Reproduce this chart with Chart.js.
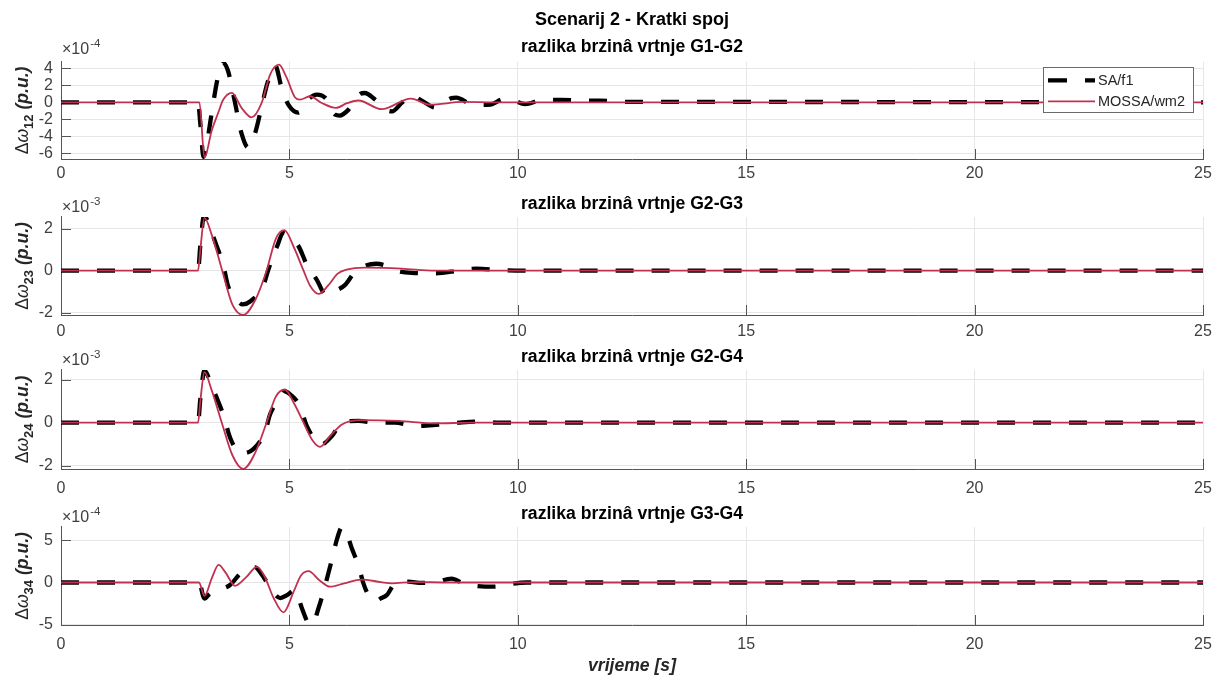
<!DOCTYPE html>
<html><head><meta charset="utf-8">
<script src="https://cdn.jsdelivr.net/npm/chart.js@4"></script>
<style>
html,body{margin:0;padding:0;background:#fff;}
#wrap{position:relative;width:1217px;height:681px;overflow:hidden;background:#fff;}
canvas{position:absolute;left:0;}
</style></head><body>
<div id="wrap">
<canvas id="c1"></canvas><canvas id="c2"></canvas><canvas id="c3"></canvas><canvas id="c4"></canvas>
</div>
<script>
// ---------- data ----------
const xTicks = [0, 5, 10, 15, 20, 25];
const seriesNames = ['SA/f1', 'MOSSA/wm2'];
const mainTitle = 'Scenarij 2 - Kratki spoj';
const subTitles = ['razlika brzinâ vrtnje G1-G2', 'razlika brzinâ vrtnje G2-G3', 'razlika brzinâ vrtnje G2-G4', 'razlika brzinâ vrtnje G3-G4'];
const subIdx = ['12', '23', '24', '34'];
const expLabels = ['-4', '-3', '-3', '-4'];
const yTicks12 = [-6, -4, -2, 0, 2, 4];
const yTicks23 = [-2, 0, 2];
const yTicks24 = [-2, 0, 2];
const yTicks34 = [-5, 0, 5];
const xTitle = 'vrijeme [s]';

// G1-G2 (x1e-4)
const t_sa12 = [0, 3.0, 3.05, 3.12, 3.2, 3.3, 3.42, 3.53, 3.65, 3.8, 3.95, 4.1, 4.25, 4.38, 4.52, 4.69, 4.83, 4.98, 5.2, 5.4, 5.6, 5.8, 6.0, 6.1, 6.29, 6.55, 6.65, 6.88, 7.17, 7.25, 7.45, 7.66, 7.9, 8.2, 8.55, 8.65, 9.0, 9.2, 9.4, 9.7, 9.8, 10.16, 10.55, 10.95, 11.4, 11.8, 12.5, 14, 25];
const sa12   = [0, 0, -2.5, -6.4, -4.6, -1.2, 2.6, 4.7, 3.8, 0.2, -3.6, -5.3, -3.6, -0.8, 2.3, 4.3, 1.7, -0.3, -1.2, 0.3, 0.9, 0.45, -1.45, -1.55, -0.88, 1.0, 1.1, 0.32, -1.0, -1.05, -0.1, 0.84, 0.2, -0.6, 0.5, 0.55, -0.25, -0.3, -0.25, 0.4, 0.4, -0.2, 0.3, 0.3, 0.2, 0.2, 0.05, 0.05, 0];
const t_mo12 = [0, 3.03, 3.14, 3.3, 3.45, 3.55, 3.74, 3.96, 4.175, 4.39, 4.58, 4.77, 4.94, 5.12, 5.23, 5.45, 5.71, 6.02, 6.26, 6.51, 7.02, 7.66, 8.08, 8.8, 9.5, 25];
const mo12   = [0, 0, -6.47, -3.3, -1.1, 0.3, 1.12, -0.7, -1.76, -0.1, 3.3, 4.43, 2.9, 0.6, 0.32, 0.72, -0.08, -0.65, -0.1, 0.22, -0.8, 0.45, -0.28, 0.05, 0, 0];

// G2-G3 (x1e-3)
const t_sa23 = [0, 3.0, 3.05, 3.13, 3.3, 3.41, 3.55, 3.66, 3.88, 3.98, 4.14, 4.43, 4.54, 4.72, 4.87, 4.94, 5.2, 5.38, 5.6, 5.8, 5.89, 6.22, 6.4, 6.55, 6.9, 7.1, 7.35, 7.68, 8.2, 8.7, 9.1, 9.6, 10.5, 25];
const sa23   = [0, 0, 1.2, 2.6, 1.8, 1.16, 0.29, -0.75, -1.46, -1.6, -1.46, -0.7, 0.05, 1.1, 1.78, 1.71, 1.16, 0.29, -0.43, -1.15, -1.06, -0.67, -0.15, 0.13, 0.33, 0.25, 0.0, -0.1, -0.12, 0.0, 0.1, 0.03, 0, 0];
const t_mo23 = [0, 3.0, 3.05, 3.14, 3.3, 3.53, 3.75, 3.99, 4.25, 4.5, 4.7, 4.89, 5.1, 5.31, 5.45, 5.64, 5.85, 6.05, 6.25, 6.66, 7.46, 8.19, 9, 25];
const mo23   = [0, 0, 1.0, 2.5, 1.7, 0, -1.6, -2.1, -1.4, 0, 1.5, 1.92, 1.1, 0, -0.7, -1.1, -0.7, -0.15, 0.05, 0.15, 0.1, 0, 0, 0];

// G2-G4 (x1e-3)
const t_sa24 = [0, 3.0, 3.05, 3.14, 3.3, 3.41, 3.55, 3.7, 3.88, 3.93, 4.21, 4.47, 4.58, 4.8, 4.9, 5.02, 5.23, 5.38, 5.6, 5.68, 5.93, 6.15, 6.51, 6.91, 7.31, 7.75, 8.2, 8.7, 9.1, 9.6, 25];
const sa24   = [0, 0, 1.1, 2.42, 1.7, 1.15, 0.38, -0.69, -1.38, -1.43, -1.23, -0.4, 0.4, 1.15, 1.46, 1.31, 0.77, -0.15, -0.89, -1.03, -0.62, 0.0, 0.08, 0.0, 0.0, -0.15, -0.1, 0, 0.05, 0, 0];
const t_mo24 = [0, 3.0, 3.05, 3.14, 3.3, 3.52, 3.75, 3.99, 4.25, 4.5, 4.7, 4.9, 5.1, 5.31, 5.5, 5.67, 5.9, 6.15, 6.58, 7.39, 8.19, 9, 25];
const mo24   = [0, 0, 1.0, 2.35, 1.5, 0, -1.5, -2.15, -1.4, 0, 1.2, 1.54, 0.9, 0, -0.8, -1.12, -0.6, -0.08, 0.12, 0.08, -0.03, 0, 0];

// G3-G4 (x1e-4)
const t_sa34 = [0, 3.02, 3.14, 3.26, 3.5, 3.7, 3.96, 4.15, 4.25, 4.35, 4.5, 4.65, 4.8, 4.95, 5.12, 5.27, 5.4, 5.5, 5.64, 5.78, 5.92, 6.05, 6.15, 6.25, 6.37, 6.51, 6.62, 6.77, 6.88, 7.0, 7.13, 7.35, 7.6, 7.9, 8.2, 8.55, 8.8, 9.0, 9.5, 9.75, 10.2, 25];
const sa34   = [0, 0, -1.9, -1.3, -0.8, -0.3, 1.26, 1.7, 1.8, 1.3, 0.08, -1.2, -1.85, -1.5, -0.9, -3.0, -4.7, -5.0, -3.0, -0.4, 2.5, 5.3, 6.55, 5.9, 4.0, 2.05, -0.1, -1.9, -2.25, -1.9, -1.5, 0.08, 0.1, -0.05, 0.05, 0.45, -0.1, -0.35, -0.5, -0.25, 0, 0];
const t_mo34 = [0, 3.02, 3.14, 3.3, 3.45, 3.6, 3.81, 4.05, 4.29, 4.45, 4.65, 4.87, 5.1, 5.25, 5.42, 5.65, 5.89, 6.2, 6.58, 7.0, 7.24, 7.7, 8.5, 25];
const mo34   = [0, 0, -1.6, 0.5, 2.1, 1.2, -0.4, 0.6, 1.85, 0.8, -1.8, -3.55, -1.0, 0.8, 1.34, 0.3, -0.5, -0.1, 0.35, 0.05, -0.1, 0.05, 0, 0];

// ---------- styling ----------
const FONT = "'Liberation Sans', Arial, Helvetica, sans-serif";
const RED = 'rgb(194,48,80)';
const AXC = '#555555';
const GRID = '#e6e6e6';
const TXT = '#262626';

const decor = {
  id: 'decor',
  beforeDatasetsDraw(chart, args, o) {
    const ctx = chart.ctx, ca = chart.chartArea;
    const xs = chart.scales.x, ys = chart.scales.y;
    ctx.save();
    ctx.strokeStyle = AXC; ctx.lineWidth = 1;
    ctx.beginPath();
    xs.ticks.forEach(t => { const px = Math.round(xs.getPixelForValue(t.value)) + 0.5; ctx.moveTo(px, ca.bottom); ctx.lineTo(px, ca.bottom - 10); });
    ys.ticks.forEach(t => { const py = Math.round(ys.getPixelForValue(t.value)) + 0.5; ctx.moveTo(ca.left, py); ctx.lineTo(ca.left + 10, py); });
    ctx.stroke();
    ctx.restore();
  },
  afterDraw(chart, args, o) {
    const ctx = chart.ctx, ca = chart.chartArea;
    ctx.save();
    // exponent label
    ctx.fillStyle = '#404040';
    ctx.textBaseline = 'alphabetic';
    ctx.font = '16px ' + FONT;
    const ex = ca.left + 1, ey = ca.top - o.expOff;
    ctx.fillText('×10', ex, ey);
    const w = ctx.measureText('×10').width;
    ctx.font = '11.5px ' + FONT;
    ctx.fillText(o.exp, ex + w + 1, ey - 7);
    // y label
    ctx.fillStyle = TXT;
    const parts = [
      {t: 'Δ', f: '17.6px ' + FONT, dy: 0},
      {t: 'ω', f: 'italic 17.6px ' + FONT, dy: 0},
      {t: o.sub, f: 'bold 13px ' + FONT, dy: 5},
      {t: ' (p.u.)', f: 'italic bold 17.6px ' + FONT, dy: 0}
    ];
    let total = 0;
    parts.forEach(p => { ctx.font = p.f; p.w = ctx.measureText(p.t).width; total += p.w; });
    ctx.translate(28, (ca.top + ca.bottom) / 2);
    ctx.rotate(-Math.PI / 2);
    let x = -total / 2;
    parts.forEach(p => { ctx.font = p.f; ctx.fillText(p.t, x, p.dy); x += p.w; });
    ctx.restore();
    // legend
    if (o.legend) {
      ctx.save();
      const bw = 150, bh = 45;
      const bx = ca.right - 10 - bw, by = ca.top + 5;
      ctx.fillStyle = '#fff';
      ctx.fillRect(bx, by, bw, bh);
      ctx.strokeStyle = '#6a6a6a'; ctx.lineWidth = 1;
      ctx.strokeRect(Math.round(bx) + 0.5, Math.round(by) + 0.5, bw, bh);
      const y1 = by + 13.5, y2 = by + 34.5;
      const lx0 = bx + 5, lx1 = bx + 52;
      ctx.strokeStyle = '#000'; ctx.lineWidth = 4.3; ctx.setLineDash([19, 18]);
      ctx.beginPath(); ctx.moveTo(lx0, y1); ctx.lineTo(lx1, y1); ctx.stroke();
      ctx.setLineDash([]);
      ctx.strokeStyle = RED; ctx.lineWidth = 1.8;
      ctx.beginPath(); ctx.moveTo(lx0, y2); ctx.lineTo(lx1, y2); ctx.stroke();
      ctx.fillStyle = TXT; ctx.font = '14.5px ' + FONT; ctx.textBaseline = 'middle';
      ctx.fillText(seriesNames[0], lx1 + 3, y1 + 1);
      ctx.fillText(seriesNames[1], lx1 + 3, y2 + 1);
      ctx.restore();
    }
  }
};

function pts(t, v) { return t.map((x, i) => ({x: x, y: v[i]})); }

function makeChart(id, c) {
  const cv = document.getElementById(id);
  cv.width = 1217; cv.height = c.height; cv.style.top = c.top + 'px';
  cv.style.width = '1217px'; cv.style.height = c.height + 'px';
  const titleOpts = c.first ? {
    display: true, text: mainTitle, fullSize: false, color: '#000',
    font: {family: FONT, size: 18, weight: 'bold'}, padding: {top: 9.2, bottom: 0}
  } : {
    display: true, text: c.title, fullSize: false, color: '#000',
    font: {family: FONT, size: 17.6, weight: 'bold'}, padding: {top: 21.4, bottom: 2.4}
  };
  const subOpts = c.first ? {
    display: true, text: c.title, fullSize: false, color: '#000',
    font: {family: FONT, size: 17.6, weight: 'bold'}, padding: {top: 5.6, bottom: 4.4}
  } : {display: false};
  return new Chart(cv, {
    type: 'line',
    data: {
      datasets: [
        {label: seriesNames[0], data: pts(c.tsa, c.sa), borderColor: '#000', borderWidth: 4.3, borderDash: [18, 18],
         pointRadius: 0, cubicInterpolationMode: 'monotone', order: 2, borderCapStyle: 'butt'},
        {label: seriesNames[1], data: pts(c.tmo, c.mo), borderColor: RED, borderWidth: 1.8,
         pointRadius: 0, cubicInterpolationMode: 'monotone', order: 1}
      ]
    },
    options: {
      responsive: false, animation: false, devicePixelRatio: 1,
      layout: {padding: {left: 0, right: 14, top: 0, bottom: 0}},
      plugins: {
        legend: {display: false}, tooltip: {enabled: false},
        title: titleOpts, subtitle: subOpts,
        decor: {exp: c.exp, sub: c.sub, legend: !!c.first, expOff: c.expOff}
      },
      scales: {
        x: {
          type: 'linear', min: 0, max: 25,
          afterBuildTicks: s => { s.ticks = xTicks.map(v => ({value: v})); },
          afterFit: s => { s.height = c.xh; s.paddingLeft = 0; s.paddingRight = 0; },
          grid: {color: GRID, drawTicks: false},
          border: {color: AXC},
          ticks: {font: {family: FONT, size: 16}, color: '#404040', padding: c.xpad, maxRotation: 0, autoSkip: false},
          title: c.last ? {display: true, text: xTitle, color: TXT,
                  font: {family: FONT, size: 17.6, weight: 'bold', style: 'italic'}, padding: {top: 0, bottom: 4.6}} : {display: false}
        },
        y: {
          min: c.ymin, max: c.ymax,
          afterBuildTicks: s => { s.ticks = c.yt.map(v => ({value: v})); },
          afterFit: s => { s.width = 61; },
          grid: {color: GRID, drawTicks: false},
          border: {color: AXC},
          ticks: {font: {family: FONT, size: 16}, color: '#404040', padding: 8, autoSkip: false}
        }
      }
    },
    plugins: [decor]
  });
}

makeChart('c1', {first: true, top: 0, height: 184, xh: 25, xpad: 5, expOff: 8, title: subTitles[0], sub: subIdx[0], exp: expLabels[0],
  ymin: -6.65, ymax: 4.75, yt: yTicks12, tsa: t_sa12, sa: sa12, tmo: t_mo12, mo: mo12});
makeChart('c2', {top: 172, height: 170, xh: 27, xpad: 7, expOff: 5, title: subTitles[1], sub: subIdx[1], exp: expLabels[1],
  ymin: -2.1, ymax: 2.55, yt: yTicks23, tsa: t_sa23, sa: sa23, tmo: t_mo23, mo: mo23});
makeChart('c3', {top: 325, height: 174, xh: 30, xpad: 10, expOff: 5, title: subTitles[2], sub: subIdx[2], exp: expLabels[2],
  ymin: -2.15, ymax: 2.45, yt: yTicks24, tsa: t_sa24, sa: sa24, tmo: t_mo24, mo: mo24});
makeChart('c4', {last: true, top: 482, height: 199, xh: 56, xpad: 10, expOff: 5, title: subTitles[3], sub: subIdx[3], exp: expLabels[3],
  ymin: -5.05, ymax: 6.6, yt: yTicks34, tsa: t_sa34, sa: sa34, tmo: t_mo34, mo: mo34});
</script>
</body></html>
